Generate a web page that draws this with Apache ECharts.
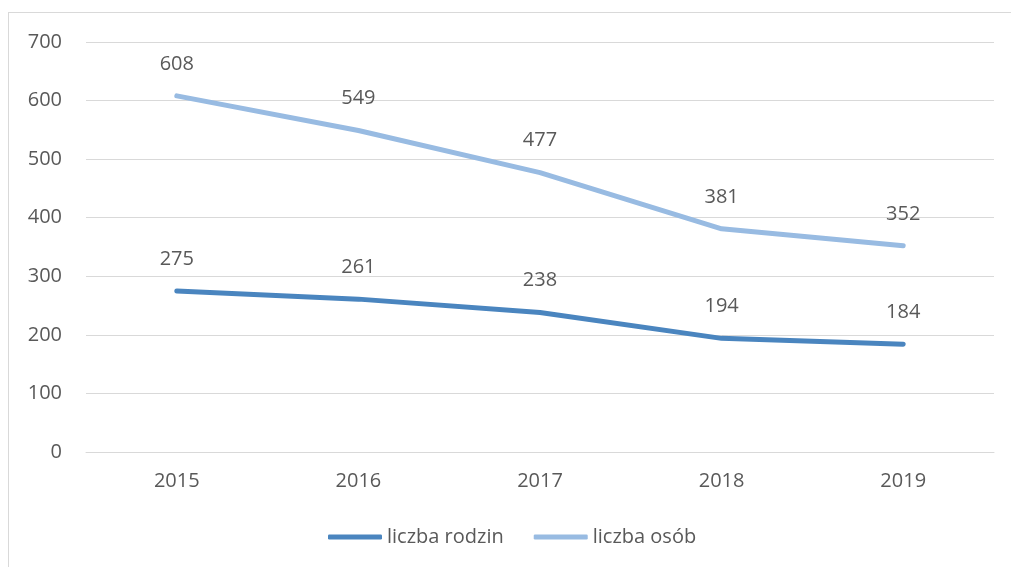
<!DOCTYPE html>
<html>
<head>
<meta charset="utf-8">
<script src="https://cdn.jsdelivr.net/npm/echarts@6/dist/echarts.min.js"></script>
<style>
  html, body { margin: 0; padding: 0; background: #fff; }
  #frame { position: absolute; left: 8px; top: 12px; width: 1003px; height: 555px;
           border-left: 1px solid #d9d9d9; border-top: 1px solid #d9d9d9; }
  #chart { position: absolute; left: 0; top: 0; width: 1011px; height: 567px; }
</style>
</head>
<body>
<div id="frame"></div>
<div id="chart"></div>
<script>
const years = ["2015", "2016", "2017", "2018", "2019"];
const rodziny = [275, 261, 238, 194, 184];
const osoby = [608, 549, 477, 381, 352];

const font = "'Open Sans', 'Noto Sans', sans-serif";
const textColor = "#595959";
const fs = 20;

const chart = echarts.init(document.getElementById("chart"), null, { renderer: "canvas" });

function line(name, data, color) {
  return {
    name, type: "line", data,
    smooth: false, showSymbol: true, symbol: "circle", symbolSize: 0,
    lineStyle: { color, width: 5, cap: "round", join: "round" },
    itemStyle: { color },
    label: {
      show: true, position: "top", distance: 22,
      color: textColor, fontSize: fs, fontFamily: font,
    },
    emphasis: { disabled: true },
    animation: false,
  };
}

chart.setOption({
  grid: { left: 86, right: 17, top: 42, bottom: 115, containLabel: false },
  legend: {
    top: 522, left: 323, itemWidth: 54, itemHeight: 5, itemGap: 30,
    icon: "roundRect",
    textStyle: { color: textColor, fontSize: fs, fontFamily: font, padding: [0, 0, 0, 0] },
    data: ["liczba rodzin", "liczba osób"],
  },
  xAxis: {
    type: "category", data: years, boundaryGap: true,
    axisLine: { lineStyle: { color: "#d9d9d9" } },
    axisTick: { show: false },
    axisLabel: { color: textColor, fontSize: fs, fontFamily: font, margin: 19 },
  },
  yAxis: {
    type: "value", min: 0, max: 700, interval: 100,
    axisLine: { show: false }, axisTick: { show: false },
    axisLabel: { color: textColor, fontSize: fs, fontFamily: font, margin: 24 },
    splitLine: { lineStyle: { color: "#d9d9d9", width: 1 } },
  },
  series: [
    line("liczba rodzin", rodziny, "#4a85bf"),
    line("liczba osób", osoby, "#98bbe2"),
  ],
});
</script>
</body>
</html>
